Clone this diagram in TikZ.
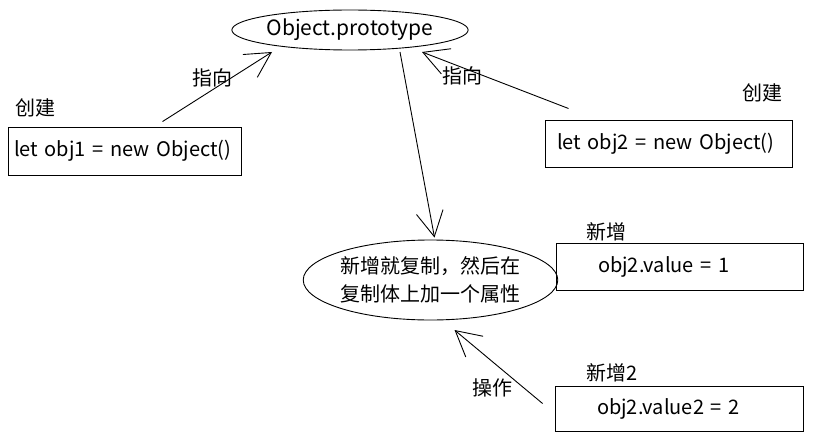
\documentclass[tikz,border=0pt]{standalone}
\usepackage{fontspec}
\setmainfont{Noto Sans CJK SC}
\usetikzlibrary{arrows.meta,shapes.geometric}

\tikzset{
  proto/.style={draw,ellipse,line width=0.9pt,inner sep=0pt},
  codebox/.style={draw,rectangle,line width=0.9pt,align=left,font=\fontsize{20}{24}\selectfont},
  tag/.style={inner sep=0pt,font=\fontsize{20}{24}\selectfont},
  link/.style={line width=0.9pt,-{Straight Barb[length=25pt,width=27pt]}}
}

\begin{document}
\begin{tikzpicture}[x=1pt,y=-1pt]
      \useasboundingbox (0,0) rectangle (813,441);
      \draw
        (350,30) node[proto,minimum width=224pt,minimum height=40pt,font=\fontsize{21}{24}\selectfont] (p1){Object.prototype}
        (430.5,280) node[proto,minimum width=225pt,minimum height=80pt,align=center,font=\fontsize{20}{28}\selectfont] (e2){新增就复制，然后在\\复制体上加一个属性}
        (124.5,151) node[codebox,text width=221pt,inner xsep=6pt,minimum height=48pt] (b1){\mbox{let obj1 = new Object()}}
        (668.5,143.5) node[codebox,text width=223pt,inner xsep=12pt,minimum height=47pt] (b2){\mbox{let obj2 = new Object()}}
        (679.5,266.5) node[codebox,text width=163pt,inner xsep=42pt,minimum height=47pt] (b3){obj2.value = 1}
        (679,408.5) node[codebox,text width=164pt,inner xsep=42pt,minimum height=45pt] (b4){obj2.value2 = 2};
      % labels
      \node[tag] (c1) at (35,108) {创建};
      \node[tag] (c2) at (762,93) {创建};
      \node[tag] (n1) at (606,232) {新增};
      \node[tag] (n2) at (612,373) {新增2};
      \node[tag] (l1) at (212,78) {指向};
      \node[tag] (l2) at (462,76) {指向};
      \node[tag] (l3) at (492,388) {操作};
      \begin{scope}[link]
        \draw ([shift={(38,-5)}]b1.north) to ([shift={(-78,22)}]p1.center);
        \draw ([shift={(-100,-35)}]b2.center) to ([shift={(72,22)}]p1.center);
        \draw ([shift={(50,22)}]p1.center) to ([shift={(4,-2)}]e2.north);
        \draw ([shift={(-12,-5)}]b4.west) to ([shift={(24,50)}]e2.center);
      \end{scope}
    \end{tikzpicture}
\end{document}
